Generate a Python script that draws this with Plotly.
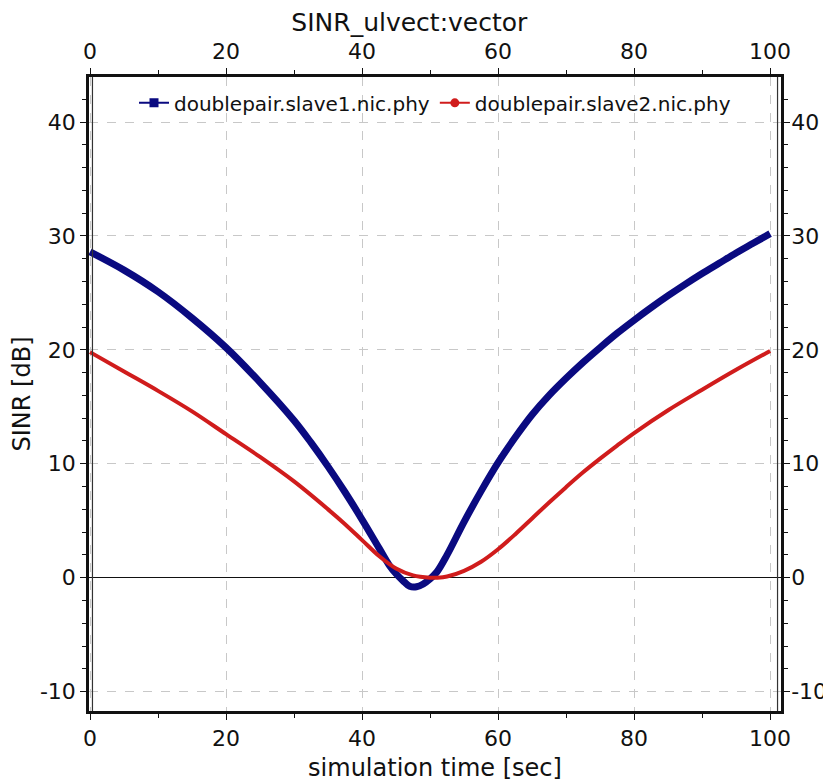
import plotly.graph_objects as go

# simulation time [sec] and SINR [dB]
time_slave1 = [0, 5, 10, 15, 20, 25, 30, 32.5, 35, 37.5, 40, 42.5, 44, 45, 46, 47, 48,
               49, 50, 51, 52.5, 55, 57.5, 60, 62.5, 65, 67.5, 70, 72.5, 75, 77.5, 80,
               82.5, 85, 87.5, 90, 92.5, 95, 97.5, 100]
sinr_slave1 = [28.6, 27.0, 25.1, 22.8, 20.2, 17.15, 13.8, 11.85, 9.75, 7.5, 5.1, 2.6, 1.1,
               0.35, -0.25, -0.75, -0.8, -0.55, -0.1, 0.5, 2.0, 4.9, 7.6, 10.1, 12.3,
               14.3, 16.0, 17.5, 18.9, 20.2, 21.45, 22.6, 23.7, 24.75, 25.75, 26.7,
               27.6, 28.5, 29.35, 30.2]

time_slave2 = [0, 5, 10, 15, 20, 25, 30, 35, 37.5, 40, 42.5, 45, 47.5, 50, 51, 52.5, 55,
               57.5, 60, 62.5, 65, 67.5, 70, 72.5, 75, 77.5, 80, 85, 90, 95, 100]
sinr_slave2 = [19.8, 18.1, 16.4, 14.6, 12.6, 10.6, 8.45, 6.0, 4.7, 3.3, 1.9, 0.8, 0.2,
               0.0, 0.0, 0.1, 0.6, 1.4, 2.5, 3.8, 5.2, 6.6, 7.95, 9.25, 10.45, 11.6,
               12.7, 14.7, 16.5, 18.25, 19.9]

x_ticks = [0, 20, 40, 60, 80, 100]
y_ticks = [-10, 0, 10, 20, 30, 40]
y_tick_labels = ['-10', '0', '10', '20', '30', '40']

BLUE = '#0a0a80'
RED = '#d01c1c'
FONT = 'DejaVu Sans, Verdana, sans-serif'
INK = '#111111'

fig = go.Figure()
fig.add_trace(go.Scatter(x=time_slave1, y=sinr_slave1, mode='lines', showlegend=False,
                         line=dict(color=BLUE, width=7, shape='spline')))
fig.add_trace(go.Scatter(x=time_slave2, y=sinr_slave2, mode='lines', showlegend=False,
                         xaxis='x2', yaxis='y2',
                         line=dict(color=RED, width=4, shape='spline')))
# legend entries (line + marker symbol)
fig.add_trace(go.Scatter(x=[None], y=[None], mode='lines+markers',
                         name='doublepair.slave1.nic.phy',
                         line=dict(color=BLUE, width=2),
                         marker=dict(symbol='square', size=9, color=BLUE)))
fig.add_trace(go.Scatter(x=[None], y=[None], mode='lines+markers',
                         name='doublepair.slave2.nic.phy',
                         line=dict(color=RED, width=2),
                         marker=dict(symbol='circle', size=9, color=RED)))

xr = [-0.15, 101.6]
yr = [-11.7, 43.95]
tickfont = dict(family=FONT, size=22, color=INK)

common_x = dict(range=xr, tickvals=x_ticks, tickfont=tickfont, ticks='outside',
                ticklen=6, tickcolor=INK, showline=True, linecolor=INK,
                linewidth=2.5, mirror=True, zeroline=False, automargin=False,
                minor=dict(dtick=10, tick0=0, ticks='outside', ticklen=4,
                           tickcolor=INK, showgrid=False))
common_y = dict(range=yr, tickvals=y_ticks, ticktext=y_tick_labels, tickfont=tickfont,
                ticks='outside', ticklen=6, tickcolor=INK, showline=True,
                linecolor=INK, linewidth=2.5, mirror=True, automargin=False,
                minor=dict(dtick=2, tick0=0, ticks='outside', ticklen=4,
                           tickcolor=INK, showgrid=False))

# the page body adds an 8px offset, so margins are shifted up/left by 8px
fig.update_layout(
    width=831, height=783,
    margin=dict(l=81, r=58, t=69, b=80),
    paper_bgcolor='white', plot_bgcolor='white',
    font=dict(family=FONT, color=INK),
    title=dict(text='SINR_ulvect:vector', x=0.483, xanchor='center',
               y=0.993, yanchor='top', pad=dict(t=0),
               font=dict(family=FONT, size=25, color=INK)),
    xaxis=dict(common_x, side='bottom',
               title=dict(text='simulation time [sec]', font=dict(size=24), standoff=10),
               showgrid=True, gridcolor='#c8c8c8', griddash='dash', gridwidth=1),
    xaxis2=dict(common_x, side='top', overlaying='x', anchor='y', showgrid=False),
    yaxis=dict(common_y, side='left',
               title=dict(text='SINR [dB]', font=dict(size=24), standoff=10),
               showgrid=True, gridcolor='#c8c8c8', griddash='dash', gridwidth=1,
               zeroline=True, zerolinecolor=INK, zerolinewidth=1.2),
    yaxis2=dict(common_y, side='right', overlaying='y', anchor='x', showgrid=False,
                zeroline=False, ticklabelstandoff=-3),
    legend=dict(orientation='h', x=0.5, xanchor='center', y=0.99, yanchor='top',
                bgcolor='rgba(0,0,0,0)', font=dict(family=FONT, size=20, color=INK),
                itemwidth=30, tracegroupgap=0),
    shapes=[
        # inner line of the double frame on the left and right sides
        dict(type='line', xref='paper', yref='paper', x0=0.005, x1=0.005, y0=0, y1=1,
             line=dict(color='#333', width=1.2)),
        dict(type='line', xref='paper', yref='paper', x0=0.995, x1=0.995, y0=0, y1=1,
             line=dict(color='#333', width=1.2)),
    ],
)

fig.write_html("out.html")
